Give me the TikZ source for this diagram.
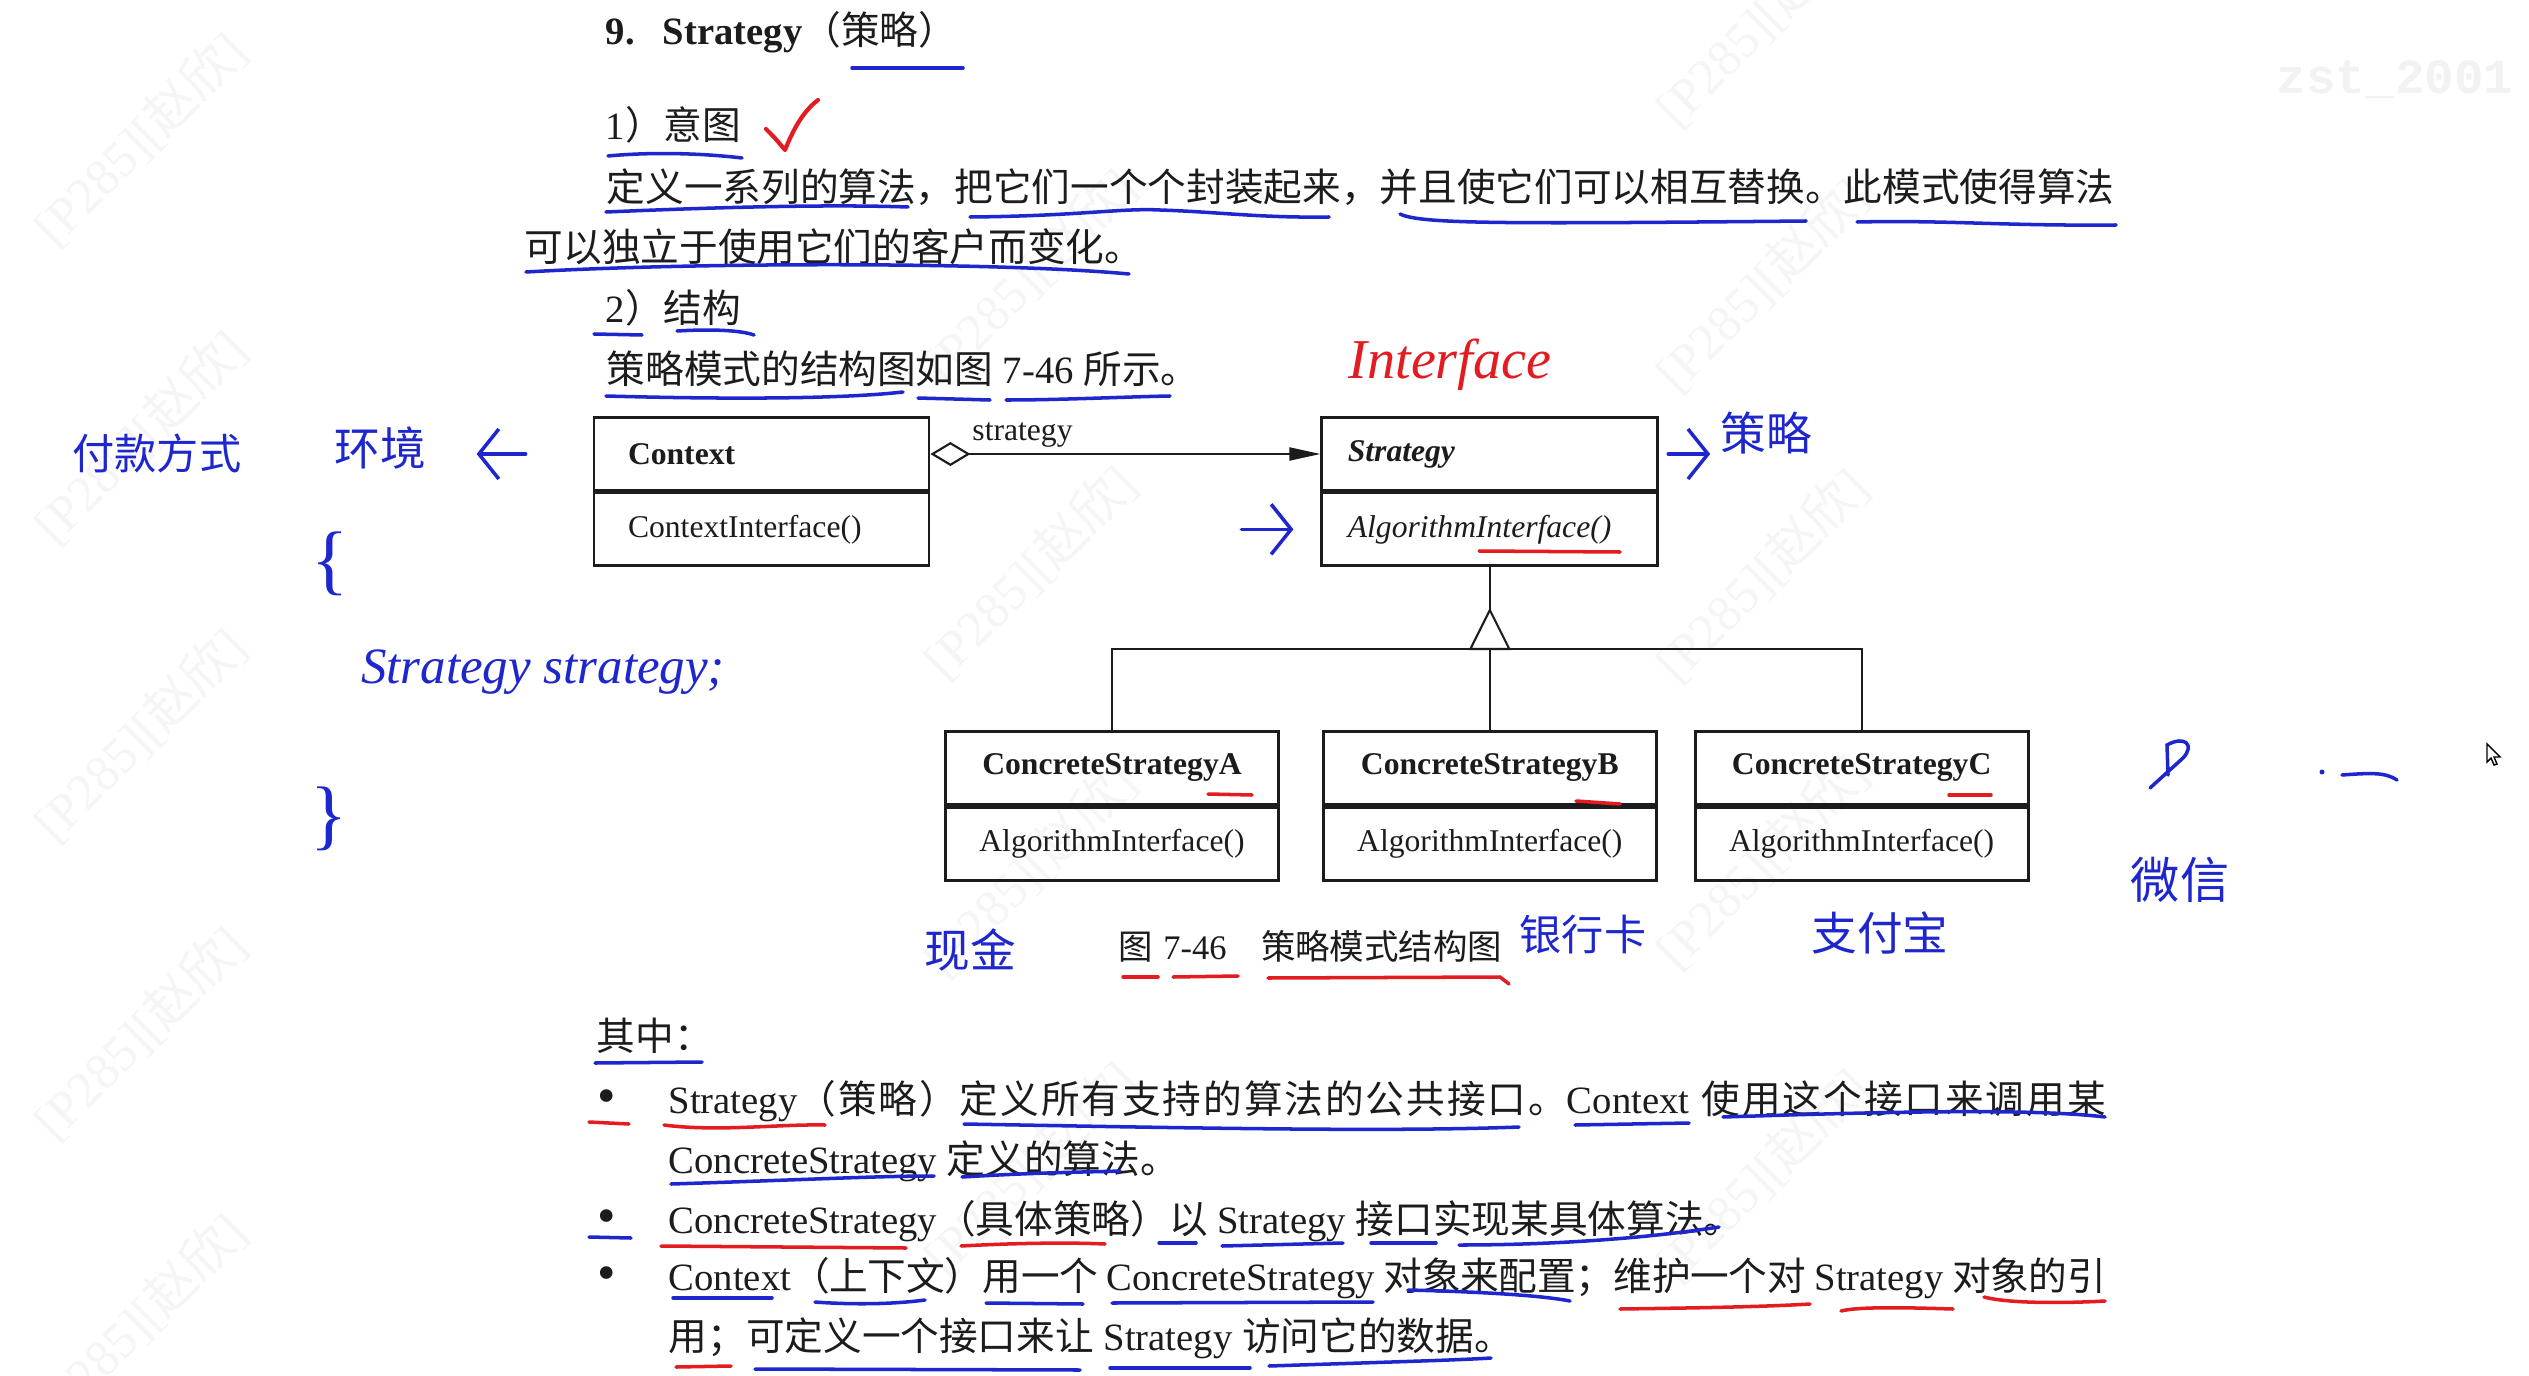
\documentclass[tikz,border=0pt]{standalone}
\usepackage{fontspec}
\setmainfont{Liberation Serif}
\newfontfamily\zhfont{Noto Sans CJK SC}
\newfontfamily\logofont{Liberation Mono}
\usetikzlibrary{
    arrows.meta,
    positioning,
    calc
}
\definecolor{InkGray}{RGB}{28,28,28}
\definecolor{PenBlue}{RGB}{30,38,205}
\definecolor{PenRed}{RGB}{226,28,32}
\newcommand{\zh}[1]{{\zhfont #1}}
% spread a run of CJK characters so that a justified line can be filled
\newcommand{\spread}[1]{\spreadstep#1\relax}
\def\spreadstep#1{\ifx#1\relax\unskip\else#1\hskip 0pt plus 1pt minus 0.3pt\relax\expandafter\spreadstep\fi}
\newcommand{\bodysize}{\fontsize{11}{13.2}\selectfont}
\newcommand{\umlsize}{\fontsize{9}{11}\selectfont}
\newcommand{\capsize}{\fontsize{9.8}{12}\selectfont}
\newcommand{\pensize}{\fontsize{13}{15}\selectfont}
\tikzset{
  txt/.style    = {anchor=base west, inner sep=0pt, text=InkGray, font=\bodysize},
  dotmark/.style= {anchor=base west, inner sep=0pt, text=InkGray, font=\fontsize{15}{15}\selectfont},
  clsbox/.style = {draw=InkGray, line width=0.8pt, minimum width=33.5mm,
                   minimum height=7.25mm, align=left, font=\umlsize, text=InkGray},
  conbox/.style = {draw=InkGray, line width=0.8pt, minimum width=33.3mm,
                   minimum height=7.3mm, align=center, font=\umlsize, text=InkGray},
  link/.style   = {InkGray, line width=0.6pt},
  ulb/.style    = {PenBlue, line width=1pt, line cap=round},
  ulr/.style    = {PenRed, line width=1pt, line cap=round},
  penarr/.style = {PenBlue, line width=1pt, line cap=round,
                   -{Straight Barb[length=2mm,width=5mm]}},
  hand/.style   = {text=PenBlue, inner sep=1pt, font=\zhfont\pensize},
  wmark/.style  = {rotate=45, text=black!4, font=\fontsize{14.5}{16}\selectfont}
}

\begin{document}
\begin{tikzpicture}[x=0.1mm, y=-0.1mm]
\fill[white] (0,0) rectangle (2529,1376);
\useasboundingbox (0,0) rectangle (2529,1376);

% faint watermark
\foreach \wx/\wy in {140/139, 140/437, 140/735, 140/1033, 140/1320,
                     1030/275, 1030/572, 1030/870, 1030/1168,
                     1762/20, 1762/285, 1762/575, 1762/862, 1762/1175}
  \node[wmark] (wm-\wx-\wy) at (\wx,\wy) {[P285][\zh{赵欣}]};
\node[font=\logofont\bfseries\fontsize{14}{16}\selectfont, text=black!5] (logo) at (2395,80) {zst\_2001};

% heading
\node[txt] (title) at (605,45) {\textbf{9.\hspace{0.73em}Strategy}\zh{（策略）}};
\node[txt] (intent) at (605,140) {1\zh{）意图}};
\node[txt] (def1) at (606,202) {\zh{定义一系列的算法，把它们一个个封装起来，并且使它们可以相互替换。此模式使得算法}};
\node[txt] (def2) at (524,262) {\zh{可以独立于使用它们的客户而变化。}};
\node[txt] (struct) at (605,323) {2\zh{）结构}};
\node[txt] (refer) at (606,383) {\zh{策略模式的结构图如图} 7-46 \zh{所示。}};

% class diagram
\node[clsbox, inner xsep=3.4mm, text width=26.7mm] (ctx) at (761.5,454) {\textbf{Context}};
\node[clsbox, inner xsep=3.4mm, text width=26.7mm, below=0pt of ctx] (ctxm) {ContextInterface()};
\node[clsbox, inner xsep=2.6mm, text width=28.4mm, right=39mm of ctx] (str) {\textbf{\textit{Strategy}}};
\node[clsbox, inner xsep=2.6mm, text width=28.4mm, below=0pt of str] (strm) {\textit{AlgorithmInterface()}};
\node[conbox, below=16.3mm of strm] (csB) {\textbf{ConcreteStrategyB}};
\node[conbox, below=0pt of csB] (csBm) {AlgorithmInterface()};
\node[conbox, left=4.2mm of csB] (csA) {\textbf{ConcreteStrategyA}};
\node[conbox, below=0pt of csA] (csAm) {AlgorithmInterface()};
\node[conbox, right=3.6mm of csB] (csC) {\textbf{ConcreteStrategyC}};
\node[conbox, below=0pt of csC] (csCm) {AlgorithmInterface()};

\draw[link, {Diamond[open,length=4mm,width=2.4mm]}-{Triangle[length=3.1mm,width=1.3mm]}]
    (ctx.east) -- node[pos=0, anchor=south west, xshift=4.1mm, yshift=0.6mm, inner sep=0pt,
    font=\umlsize, text=InkGray] (role) {strategy} (str.west);

\coordinate (barY) at (0,649);
\coordinate (hub) at (strm.south |- barY);
\draw[link] (strm.south) -- (hub);
\draw[link] (csA.north) |- (hub) -| (csC.north);
\draw[link] (csB.north) -- (hub);
\draw[link, fill=white] ($(hub)+(-19.5,0)$) -- ($(hub)+(0,-39)$) -- ($(hub)+(19.5,0)$) -- cycle;

\node[anchor=base west, inner sep=0pt, text=InkGray, font=\capsize] (caption) at (1118,959)
    {\zh{图}\hspace{0.3em}7-46\hspace{1em}\zh{策略模式结构图}};

% notes below
\node[txt] (among) at (596,1050) {\zh{其中：}};
\node[dotmark] (dot1) at (597,1113) {\textbullet};
\node[txt] (item1a) at (668,1113) {\hbox to 143.7mm{Strategy\zh{\spread{（策略）定义所有支持的算法的公共接口。}}Context \zh{\spread{使用这个接口来调用某}}}};
\node[txt] (item1b) at (668,1173) {ConcreteStrategy \zh{定义的算法。}};
\node[dotmark] (dot2) at (597,1233) {\textbullet};
\node[txt] (item2) at (668,1233) {ConcreteStrategy\zh{（具体策略）以} Strategy \zh{接口实现某具体算法。}};
\node[dotmark] (dot3) at (597,1290) {\textbullet};
\node[txt] (item3a) at (668,1290) {\hbox to 143.7mm{Context\zh{\spread{（上下文）用一个}} ConcreteStrategy \zh{\spread{对象来配置；维护一个对}} Strategy \zh{\spread{对象的引}}}};
\node[txt] (item3b) at (668,1350) {\zh{用；可定义一个接口来让} Strategy \zh{访问它的数据。}};

% handwritten notes
\node[hand, font=\zhfont\fontsize{12}{14}\selectfont] (pay) at (157,453) {付款方式};
\node[hand] (env) at (380,448) {环境};
\draw[penarr] ([xshift=-6.7mm]ctx.west) -- ([xshift=-11.6mm]ctx.west);
\node[hand, font=\fontsize{22}{24}\selectfont] (lbrace) at (330,564) {\{};
\node[hand, font=\itshape\fontsize{14.5}{16}\selectfont] (field) at (543,672) {Strategy strategy;};
\node[hand, font=\fontsize{22}{24}\selectfont] (rbrace) at (329,819) {\}};
\node[hand, text=PenRed, font=\itshape\fontsize{16}{18}\selectfont] (iface) at (1450,365) {Interface};
\node[hand] (celve) at (1766,433) {策略};
\draw[penarr] ([xshift=0.9mm]str.east) -- ++(4.2mm,0);
\draw[penarr] ([xshift=-7.9mm]strm.west) -- ([xshift=-2.7mm]strm.west);
\node[hand] (cash) at (970,950) {现金};
\node[hand, font=\zhfont\fontsize{12}{14}\selectfont] (card) at (1583,935) {银行卡};
\node[hand] (alipay) at (1880,933) {支付宝};
\node[hand, font=\zhfont\fontsize{14}{16}\selectfont] (wechat) at (2180,880) {微信};
\draw[PenRed, line width=1.2pt, line cap=round, line join=round]
    (766,129) .. controls (775,138) .. (785,150) .. controls (795,125) and (805,110) .. (818,100);
\draw[ulb] (2150,788) -- (2183,758) .. controls (2195,745) and (2185,735) .. (2167,745) -- (2168,775);
\fill[PenBlue] (2322,772) circle (2.5);
\draw[ulb] (2342,775) .. controls (2370,773) and (2385,772) .. (2397,780);
\filldraw[fill=white, draw=black, line width=0.4pt]
    (2487,744) -- (2487,762) -- (2491,758) -- (2494,765) -- (2497,764) -- (2494,757) -- (2500,757) -- cycle;

% underlines
\draw[ulb] (852,68) -- (963,68);
\draw[ulb] (608,156) .. controls (650,152) and (700,153) .. (742,158);
\draw[ulb] (606,212) .. controls (700,208) and (820,204) .. (908,207);
\draw[ulb] (970,217) .. controls (1080,216) and (1120,208) .. (1160,210) .. controls (1220,212) and (1260,218) .. (1329,217);
\draw[ulb] (1400,214) .. controls (1420,224) and (1500,224) .. (1806,221);
\draw[ulb] (1857,222) .. controls (1950,220) and (2000,226) .. (2116,225);
\draw[ulb] (526,272) .. controls (700,262) and (1000,262) .. (1129,274);
\draw[ulb] (594,334) -- (642,335);
\draw[ulb] (677,331) .. controls (710,329) and (740,330) .. (754,335);
\draw[ulb] (606,396) .. controls (750,400) and (850,398) .. (903,392);
\draw[ulb] (918,398) -- (990,400);
\draw[ulb] (1006,400) .. controls (1060,400) and (1120,397) .. (1170,396);
\draw[ulr] (1479,551) -- (1620,552);
\draw[ulr] (1208,794) -- (1252,795);
\draw[ulr] (1576,801) -- (1620,804);
\draw[ulr] (1949,795) -- (1991,795);
\draw[ulr] (1123,977) -- (1158,977);
\draw[ulr] (1173,977) -- (1238,976);
\draw[ulr] (1268,978) -- (1500,977) -- (1509,984);
\draw[ulb] (595,1063) -- (702,1062);
\draw[ulr] (589,1122) -- (629,1124);
\draw[ulr] (664,1125) .. controls (718,1132) and (778,1124) .. (825,1125);
\draw[ulb] (964,1124) .. controls (1190,1128) and (1390,1132) .. (1519,1127);
\draw[ulb] (1575,1125) -- (1689,1123);
\draw[ulb] (1723,1117) .. controls (1880,1112) and (2030,1108) .. (2105,1117);
\draw[ulb] (671,1184) .. controls (800,1180) and (875,1176) .. (934,1176);
\draw[ulb] (962,1177) .. controls (1045,1172) and (1095,1172) .. (1120,1171);
\draw[ulb] (589,1237) -- (631,1238);
\draw[ulr] (661,1246) -- (906,1248);
\draw[ulr] (961,1246) .. controls (1035,1242) and (1085,1243) .. (1105,1244);
\draw[ulb] (1159,1243) -- (1196,1243);
\draw[ulb] (1222,1246) -- (1343,1243);
\draw[ulb] (1371,1243) -- (1436,1243);
\draw[ulb] (1459,1245) .. controls (1540,1245) and (1635,1240) .. (1719,1227);
\draw[ulb] (673,1298) -- (772,1298);
\draw[ulb] (815,1302) .. controls (855,1305) and (895,1304) .. (925,1300);
\draw[ulb] (986,1303) -- (1083,1304);
\draw[ulb] (1112,1303) -- (1373,1302);
\draw[ulb] (1408,1290) .. controls (1490,1292) and (1545,1296) .. (1570,1301);
\draw[ulr] (1620,1309) .. controls (1690,1308) and (1760,1307) .. (1810,1304);
\draw[ulr] (1841,1311) .. controls (1860,1306) and (1920,1308) .. (1953,1309);
\draw[ulr] (1984,1297) .. controls (2010,1304) and (2070,1303) .. (2105,1301);
\draw[ulr] (676,1367) -- (731,1366);
\draw[ulb] (755,1369) -- (1080,1370);
\draw[ulb] (1110,1368) -- (1250,1368);
\draw[ulb] (1269,1366) .. controls (1390,1362) and (1460,1360) .. (1491,1358);
\end{tikzpicture}
\end{document}
